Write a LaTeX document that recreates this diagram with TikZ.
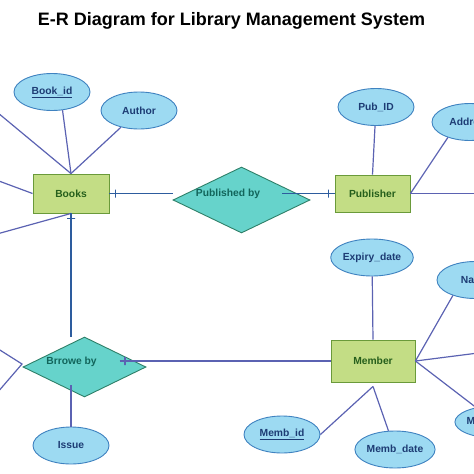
\documentclass[tikz,border=0pt]{standalone}
\usepackage{fontspec}
\setmainfont{Liberation Sans}
\usepackage{tikz}
\usetikzlibrary{shapes.geometric, arrows}
\definecolor{attrfill}{HTML}{9DDAF2}
\definecolor{attrdraw}{HTML}{3F82C0}
\definecolor{attrtext}{HTML}{1D3C74}
\definecolor{entfill}{HTML}{C3DD85}
\definecolor{entdraw}{HTML}{6A9A3A}
\definecolor{enttext}{HTML}{265F1C}
\definecolor{relfill}{HTML}{66D3CB}
\definecolor{reldraw}{HTML}{2E7F68}
\definecolor{reltext}{HTML}{12655B}
\definecolor{linecol}{HTML}{5B62B2}
\definecolor{rellinecol}{HTML}{2D5C9E}
\tikzstyle{line} = [line width=1.2pt, draw=linecol]
\tikzstyle{relline} = [line width=1.5pt, draw=rellinecol]

\begin{document}
\begin{tikzpicture}[x=1pt,y=-1pt,font=\fontsize{10.3}{12}\selectfont\bfseries,
	entity/.style={rectangle, minimum width=76pt, minimum height=39pt, inner sep=0pt, line width=0.9pt, fill=entfill, draw=entdraw, text=enttext},
	attr/.style={ellipse, minimum width=76pt, minimum height=37pt, inner sep=0pt, line width=0.9pt, fill=attrfill, draw=attrdraw, text=attrtext},
	rel/.style={diamond, inner sep=0pt, line width=0.9pt, fill=relfill, draw=reldraw},
	tickmark/.style={rectangle, draw, minimum width=0pt, minimum height=8pt, inner sep=0pt, sloped}]
	
	\clip (0,0) rectangle (474,474);
	
	\node[anchor=base,font=\fontsize{18}{20}\selectfont\bfseries] (T) at (231.5,25.5) {E-R Diagram for Library Management System};
	
	\node[entity] (B) at (71,193.5) {Books};
	\node[entity,minimum width=75pt,minimum height=37pt] (P) at (372.5,193.5) {Publisher};
	\node[entity,minimum width=84pt,minimum height=42pt] (M) at (373,361) {Member};
	
	\node[rel,minimum width=137pt,minimum height=66pt,label={[text=reltext,xshift=-13.5pt,yshift=6pt]center:Published by}] (PB) at (241.5,200) {};
	\node[rel,minimum width=123pt,minimum height=60pt,label={[text=reltext,xshift=-13pt,yshift=5pt]center:Brrowe by}] (BB) at (84.5,367) {};
	
	\node[attr] (BI) at (52,92) {\underline{Book\_id}};
	\node[attr] (AU) at (139,110.5) {Author};
	\node[attr] (PI) at (376,107) {Pub\_ID};
	\node[attr] (AD) at (470,122) {Address};
	\node[attr] (ED) at (372,257.5) {Expiry\_date};
	\node[attr] (NA) at (475,280) {Name};
	\node[attr,minimum width=70pt,minimum height=32pt] (MT) at (495,422) {Memb\_type};
	\node[attr] (MI) at (282,434.5) {\underline{Memb\_id}};
	\node[attr] (MD) at (395,449.5) {Memb\_date};
	\node[attr] (IS) at (71,445.5) {Issue};
	
	% cut off at the edges
	\coordinate (L1) at (-20,98);
	\coordinate (L2) at (-20,174);
	\coordinate (L3) at (-20,238.7);
	\coordinate (R1) at (490,193.5);
	\coordinate (R2) at (490,351.5);
	\draw[line] (-12,342.5) -- (22,364) -- (-3,393);
	
	\draw[line] (L1) -- (B.north);
	\draw[line] (BI.-60) -- (B.north);
	\draw[line] (AU) -- (B.north);
	\draw[line] (L2) -- (B.west);
	\draw[line] (L3) -- (B.south);
	
	\draw[line] (PI) -- (P.north);
	\draw[line] (AD.-145) -- (P.east);
	\draw[line] (P.east) -- (R1);
	
	\draw[line] (ED) -- (M.north);
	\draw[line] (NA.-145) -- (M.east);
	\draw[line] (M.east) -- (R2);
	\draw[line] (M.east) -- (MT);
	\draw[line] (MI.east) -- ([yshift=-4pt]M.south);
	\draw[line] (MD) -- ([yshift=-4pt]M.south);
	
	\draw[relline] (B.east) -- node[tickmark,pos=0.094] {} (PB.west |- B.east);
	\draw[relline] ([xshift=40.5pt,yshift=6.5pt]PB.center) -- node[tickmark,pos=0.887] {} (P.west);
	\draw[relline] (B.south) -- node[tickmark,pos=0.04] {} (B.south |- BB.north);
	\draw[line] ([xshift=35pt,yshift=6pt]BB.center) -- node[tickmark,pos=0.026] {} (M.west);
	\draw[line] ([xshift=-13.5pt,yshift=-18pt]BB.center) -- (IS.north);
	
\end{tikzpicture}
\end{document}
